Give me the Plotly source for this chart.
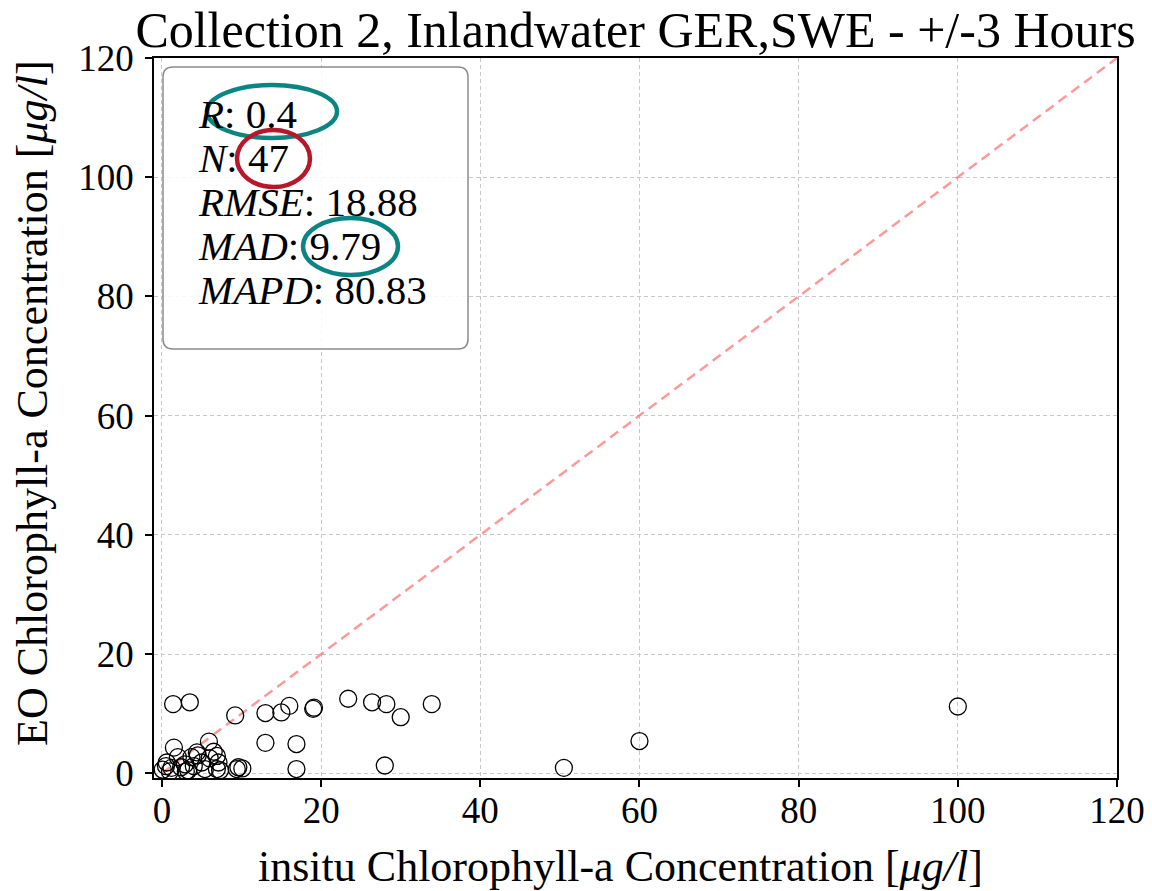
import plotly.graph_objects as go

# In-situ (x) and EO (y) chlorophyll-a values
insitu = [100.0, 60.0, 50.5, 33.9, 30.0, 28.2, 28.0, 26.4, 23.4, 19.1, 19.0, 16.0,
          15.0, 13.0, 13.0, 16.9, 16.9, 9.2, 3.5, 1.4,
          1.5, 5.9, 0.6, 2.9, 4.4, 3.7, 6.9, 7.1, 6.9, 9.4, 10.1, 0.1, 1.2, 5.0,
          3.3, 5.4, 2.0, 0.5, 4.5, 6.5, 3.0, 7.3, 9.6, 1.0, 2.4, 6.0, 4.0]
eo = [11.2, 5.4, 0.9, 11.6, 9.4, 11.6, 1.3, 11.9, 12.5, 11.0, 10.8, 11.3,
      10.2, 10.1, 5.1, 4.9, 0.7, 9.7, 11.9, 11.6,
      4.3, 5.3, 1.8, 1.5, 3.5, 2.7, 2.9, 1.8, 0.7, 0.7, 0.8, 0.6, 0.9, 1.8,
      0.5, 0.7, 2.7, 1.2, 3.0, 3.6, 0.3, 0.5, 1.0, 0.3, 1.0, 2.5, 1.2]
one_to_one = [0, 120]

stats_labels = ["R", "N", "RMSE", "MAD", "MAPD"]
stats_values = ["0.4", "47", "18.88", "9.79", "80.83"]

title = "Collection 2, Inlandwater GER,SWE - +/-3 Hours"
xtitle = "insitu Chlorophyll-a Concentration [<i>μg/l</i>]"
ytitle = "EO Chlorophyll-a Concentration [<i>μg/l</i>]"
ticks = [0, 20, 40, 60, 80, 100, 120]

FONT = "Liberation Serif, Times New Roman, serif"

fig = go.Figure()
fig.add_trace(go.Scatter(x=one_to_one, y=one_to_one, mode="lines",
                         line=dict(color="rgba(255,110,110,0.7)", width=2.5, dash="10px,6px"),
                         showlegend=False, hoverinfo="skip"))
fig.add_trace(go.Scatter(x=insitu, y=eo, mode="markers",
                         marker=dict(symbol="circle-open", size=17, color="black",
                                     line=dict(width=1.3, color="black")),
                         showlegend=False))

W, H = 1152, 891
L, R, T, B = 154, 35, 58, 113
pw, ph = W - L - R, H - T - B

def px2paper(x, y):
    return (x - L) / pw, (H - B - y) / ph

axis_common = dict(
    showgrid=True, gridcolor="#c8c8c8", griddash="4px,3px", gridwidth=1,
    zeroline=False, showline=True, linecolor="black", linewidth=1.5, mirror=True,
    ticks="outside", ticklen=7, tickwidth=1.5, tickcolor="black",
    tickvals=ticks, tickfont=dict(family=FONT, size=37, color="black"),
    automargin=False,
)

fig.update_layout(
    width=W, height=H,
    margin=dict(l=L, r=R, t=T, b=B),
    paper_bgcolor="white", plot_bgcolor="white",
    title=dict(text=title, x=(L + pw / 2) / W, xanchor="center", y=1 - 29 / H, yanchor="middle",
               font=dict(family=FONT, size=50, color="black")),
    xaxis=dict(range=[-1.0, 120], ticklabelstandoff=-8, **axis_common),
    yaxis=dict(range=[-0.8, 120], ticklabelstandoff=4, **axis_common),
)

# axis titles
ax, ay = px2paper(620, 866)
fig.add_annotation(x=ax, y=ay, xref="paper", yref="paper", xanchor="center", yanchor="middle",
                   text=xtitle, showarrow=False, font=dict(family=FONT, size=44, color="black"))
ax, ay = px2paper(32, 403)
fig.add_annotation(x=ax, y=ay, xref="paper", yref="paper", xanchor="center", yanchor="middle",
                   text=ytitle, showarrow=False, textangle=-90,
                   font=dict(family=FONT, size=44, color="black"))

# stats box (rounded rectangle)
x0, y0 = px2paper(163, 349)
x1, y1 = px2paper(468, 67)
rx, ry = 10 / pw, 10 / ph
path = (f"M {x0+rx},{y0} L {x1-rx},{y0} Q {x1},{y0} {x1},{y0+ry} L {x1},{y1-ry} "
        f"Q {x1},{y1} {x1-rx},{y1} L {x0+rx},{y1} Q {x0},{y1} {x0},{y1-ry} "
        f"L {x0},{y0+ry} Q {x0},{y0} {x0+rx},{y0} Z")
fig.add_shape(type="path", path=path, xref="paper", yref="paper",
              line=dict(color="#8c8c8c", width=1.5), fillcolor="rgba(255,255,255,0.85)", layer="above")

for i, (k, v) in enumerate(zip(stats_labels, stats_values)):
    tx, ty = px2paper(196, 114 + 44 * i)
    fig.add_annotation(x=tx, y=ty, xref="paper", yref="paper", xanchor="left", yanchor="middle",
                       text=f"<i>{k}</i>: {v}", showarrow=False, align="left",
                       font=dict(family=FONT, size=41, color="black"))

# highlight ellipses
def ell(xa, ya, xb, yb, color):
    p0 = px2paper(xa, yb)
    p1 = px2paper(xb, ya)
    fig.add_shape(type="circle", xref="paper", yref="paper", x0=p0[0], y0=p0[1], x1=p1[0], y1=p1[1],
                  line=dict(color=color, width=4.5), layer="above")

ell(207, 85, 337, 138, "#0b8582")
ell(237, 130, 310, 187, "#b8172b")
ell(303, 218, 398, 275, "#0b8582")

fig.write_html("out.html", config={"displayModeBar": False},
               post_script="document.body.style.margin='0';document.body.style.overflow='hidden';")
